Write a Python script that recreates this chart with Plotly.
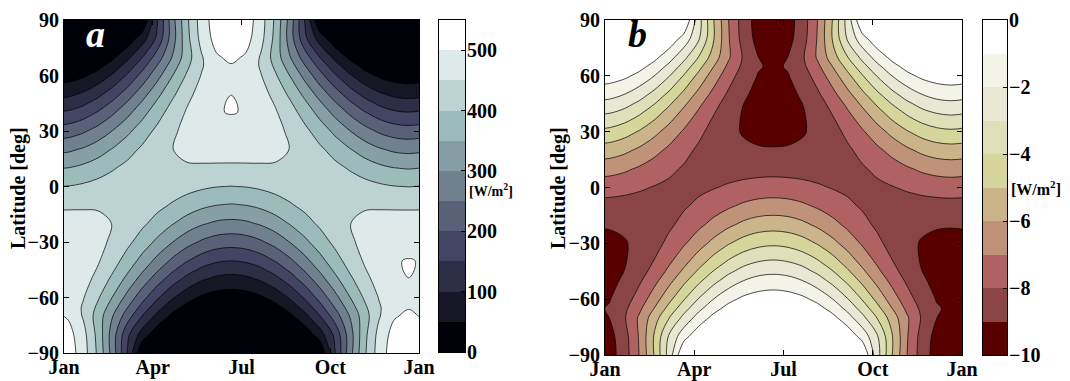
import plotly.graph_objects as go

# the page body adds an 8 px margin, so the figure is drawn 8 px in from the corner
OFF = 8
W, H = 1070 - OFF, 381 - OFF

# time axis in months since 1 Jan (half-month steps around the solstices)
month_pos = [-0.35, 0.15, 0.65, 1.15, 1.65, 2.15, 2.65, 3.15, 3.65, 4.15, 4.65, 5.15, 5.65,
             6.15, 6.65, 7.15, 7.65, 8.15, 8.65, 9.15, 9.65, 10.15, 10.65, 11.15, 11.65, 12.15]

latitudes = [90, 80, 70, 65, 60, 50, 45, 40, 30, 20, 10, 0, -10, -20, -30, -40, -45, -50, -60, -65, -70, -80, -90]

# panel a: insolation [W/m2], one row per latitude (north to south)
insolation = [
    [0, 0, 0, 0, 0, 0, 0, 144.5, 277.6, 389.7, 474.1, 526.0, 543.6, 526.0, 474.1, 389.7, 277.6, 144.5, 0, 0, 0, 0, 0, 0, 0, 0],
    [0, 0, 0, 0, 0, 18.1, 75.5, 160.4, 273.4, 383.8, 466.9, 518.1, 535.3, 518.1, 466.9, 383.8, 273.4, 160.4, 75.5, 18.1, 0, 0, 0, 0, 0, 0],
    [0, 0, 0, 10.6, 39.6, 86.4, 148.8, 222.2, 300.5, 376.8, 445.5, 494.3, 510.8, 494.3, 445.5, 376.8, 300.5, 222.2, 148.8, 86.4, 39.6, 10.6, 0, 0, 0, 0],
    [3.0, 5.5, 15.4, 36.9, 72.3, 122.1, 183.8, 253.1, 323.9, 390.1, 445.1, 482.2, 495.7, 482.2, 445.1, 390.1, 323.9, 253.1, 183.8, 122.1, 72.3, 36.9, 15.4, 5.5, 3.0, 5.5],
    [23.7, 28.1, 42.2, 68.1, 106.7, 157.4, 217.5, 282.5, 347.1, 405.6, 452.8, 483.7, 494.4, 483.7, 452.8, 405.6, 347.1, 282.5, 217.5, 157.4, 106.7, 68.1, 42.2, 28.1, 23.7, 28.1],
    [83.4, 89.2, 106.6, 135.8, 175.9, 224.9, 279.6, 335.6, 388.5, 434.3, 469.8, 495.0, 499.8, 495.0, 469.8, 434.3, 388.5, 335.6, 279.6, 224.9, 175.9, 135.8, 106.6, 89.2, 83.4, 89.2],
    [117.0, 123.0, 140.8, 170.2, 209.5, 256.5, 307.6, 358.7, 405.8, 445.8, 476.1, 497.8, 501.4, 497.8, 476.1, 445.8, 405.8, 358.7, 307.6, 256.5, 209.5, 170.2, 140.8, 123.0, 117.0, 123.0],
    [151.5, 157.5, 175.3, 204.1, 242.0, 286.2, 333.2, 379.1, 420.5, 454.6, 480.1, 498.8, 500.9, 498.8, 480.1, 454.6, 420.5, 379.1, 333.2, 286.2, 242.0, 204.1, 175.3, 157.5, 151.5, 157.5],
    [220.6, 226.3, 242.9, 269.0, 302.1, 339.2, 376.7, 411.4, 440.9, 463.8, 480.0, 489.3, 492.4, 489.3, 480.0, 463.8, 440.9, 411.4, 376.7, 339.2, 302.1, 269.0, 242.9, 226.3, 220.6, 226.3],
    [286.8, 291.7, 305.8, 327.4, 353.9, 382.1, 408.8, 431.5, 448.9, 460.7, 467.9, 471.6, 472.7, 471.6, 467.9, 460.7, 448.9, 431.5, 408.8, 382.1, 353.9, 327.4, 305.8, 291.7, 286.8, 291.7],
    [347.0, 350.8, 361.5, 377.3, 395.6, 413.5, 428.4, 438.6, 443.8, 445.0, 443.8, 442.1, 441.4, 442.1, 443.8, 445.0, 443.8, 438.6, 428.4, 413.5, 395.6, 377.3, 361.5, 350.8, 347.0, 350.8],
    [399.1, 401.5, 408.0, 416.9, 425.9, 432.6, 435.0, 432.6, 425.9, 416.9, 408.0, 401.5, 399.1, 401.5, 408.0, 416.9, 425.9, 432.6, 435.0, 432.6, 425.9, 416.9, 408.0, 401.5, 399.1, 401.5],
    [441.4, 442.1, 443.8, 445.0, 443.8, 438.6, 428.4, 413.5, 395.6, 377.3, 361.5, 350.8, 347.0, 350.8, 361.5, 377.3, 395.6, 413.5, 428.4, 438.6, 443.8, 445.0, 443.8, 442.1, 441.4, 442.1],
    [472.7, 471.6, 467.9, 460.7, 448.9, 431.5, 408.8, 382.1, 353.9, 327.4, 305.8, 291.7, 286.8, 291.7, 305.8, 327.4, 353.9, 382.1, 408.8, 431.5, 448.9, 460.7, 467.9, 471.6, 472.7, 471.6],
    [492.4, 489.3, 480.0, 463.8, 440.9, 411.4, 376.7, 339.2, 302.1, 269.0, 242.9, 226.3, 220.6, 226.3, 242.9, 269.0, 302.1, 339.2, 376.7, 411.4, 440.9, 463.8, 480.0, 489.3, 492.4, 489.3],
    [500.9, 498.8, 480.1, 454.6, 420.5, 379.1, 333.2, 286.2, 242.0, 204.1, 175.3, 157.5, 151.5, 157.5, 175.3, 204.1, 242.0, 286.2, 333.2, 379.1, 420.5, 454.6, 480.1, 498.8, 500.9, 498.8],
    [501.4, 497.8, 476.1, 445.8, 405.8, 358.7, 307.6, 256.5, 209.5, 170.2, 140.8, 123.0, 117.0, 123.0, 140.8, 170.2, 209.5, 256.5, 307.6, 358.7, 405.8, 445.8, 476.1, 497.8, 501.4, 497.8],
    [499.8, 495.0, 469.8, 434.3, 388.5, 335.6, 279.6, 224.9, 175.9, 135.8, 106.6, 89.2, 83.4, 89.2, 106.6, 135.8, 175.9, 224.9, 279.6, 335.6, 388.5, 434.3, 469.8, 495.0, 499.8, 495.0],
    [494.4, 483.7, 452.8, 405.6, 347.1, 282.5, 217.5, 157.4, 106.7, 68.1, 42.2, 28.1, 23.7, 28.1, 42.2, 68.1, 106.7, 157.4, 217.5, 282.5, 347.1, 405.6, 452.8, 483.7, 494.4, 483.7],
    [495.7, 482.2, 445.1, 390.1, 323.9, 253.1, 183.8, 122.1, 72.3, 36.9, 15.4, 5.5, 3.0, 5.5, 15.4, 36.9, 72.3, 122.1, 183.8, 253.1, 323.9, 390.1, 445.1, 482.2, 495.7, 482.2],
    [510.8, 494.3, 445.5, 376.8, 300.5, 222.2, 148.8, 86.4, 39.6, 10.6, 0, 0, 0, 0, 0, 10.6, 39.6, 86.4, 148.8, 222.2, 300.5, 376.8, 445.5, 494.3, 510.8, 494.3],
    [535.3, 518.1, 466.9, 383.8, 273.4, 160.4, 75.5, 18.1, 0, 0, 0, 0, 0, 0, 0, 0, 0, 18.1, 75.5, 160.4, 273.4, 383.8, 466.9, 518.1, 535.3, 518.1],
    [543.6, 526.0, 474.1, 389.7, 277.6, 144.5, 0, 0, 0, 0, 0, 0, 0, 0, 0, 0, 0, 0, 0, 144.5, 277.6, 389.7, 474.1, 526.0, 543.6, 526.0],
]

# panel b: insolation difference [W/m2]
difference = [
    [0, 0, 0, 0, 0, 0, 0, -2.59, -4.97, -6.98, -8.49, -9.42, -9.73, -9.42, -8.49, -6.98, -4.97, -2.59, 0, 0, 0, 0, 0, 0, 0, 0],
    [0, 0, 0, 0, 0, -0.33, -1.36, -2.89, -4.92, -6.91, -8.40, -9.33, -9.64, -9.33, -8.40, -6.91, -4.92, -2.89, -1.36, -0.33, 0, 0, 0, 0, 0, 0],
    [0, 0, 0, -0.19, -0.72, -1.57, -2.71, -4.04, -5.47, -6.86, -8.11, -8.99, -9.30, -8.99, -8.11, -6.86, -5.47, -4.04, -2.71, -1.57, -0.72, -0.19, 0, 0, 0, 0],
    [-0.06, -0.10, -0.28, -0.68, -1.34, -2.26, -3.40, -4.68, -5.99, -7.22, -8.23, -8.92, -9.17, -8.92, -8.23, -7.22, -5.99, -4.68, -3.40, -2.26, -1.34, -0.68, -0.28, -0.10, -0.06, -0.10],
    [-0.44, -0.53, -0.79, -1.27, -1.99, -2.94, -4.07, -5.28, -6.49, -7.58, -8.47, -9.05, -9.25, -9.05, -8.47, -7.58, -6.49, -5.28, -4.07, -2.94, -1.99, -1.27, -0.79, -0.53, -0.44, -0.53],
    [-1.57, -1.68, -2.01, -2.55, -3.31, -4.23, -5.26, -6.31, -7.30, -8.16, -8.83, -9.31, -9.40, -9.31, -8.83, -8.16, -7.30, -6.31, -5.26, -4.23, -3.31, -2.55, -2.01, -1.68, -1.57, -1.68],
    [-2.21, -2.32, -2.66, -3.22, -3.96, -4.85, -5.81, -6.78, -7.67, -8.43, -8.99, -9.41, -9.48, -9.41, -8.99, -8.43, -7.67, -6.78, -5.81, -4.85, -3.96, -3.22, -2.66, -2.32, -2.21, -2.32],
    [-2.86, -2.98, -3.31, -3.86, -4.57, -5.41, -6.30, -7.16, -7.95, -8.59, -9.07, -9.43, -9.47, -9.43, -9.07, -8.59, -7.95, -7.16, -6.30, -5.41, -4.57, -3.86, -3.31, -2.98, -2.86, -2.98],
    [-4.17, -4.28, -4.59, -5.08, -5.71, -6.41, -7.12, -7.78, -8.33, -8.77, -9.07, -9.25, -9.31, -9.25, -9.07, -8.77, -8.33, -7.78, -7.12, -6.41, -5.71, -5.08, -4.59, -4.28, -4.17, -4.28],
    [-5.42, -5.51, -5.78, -6.19, -6.69, -7.22, -7.73, -8.16, -8.48, -8.71, -8.84, -8.91, -8.93, -8.91, -8.84, -8.71, -8.48, -8.16, -7.73, -7.22, -6.69, -6.19, -5.78, -5.51, -5.42, -5.51],
    [-6.56, -6.63, -6.83, -7.13, -7.48, -7.82, -8.10, -8.29, -8.39, -8.41, -8.39, -8.36, -8.34, -8.36, -8.39, -8.41, -8.39, -8.29, -8.10, -7.82, -7.48, -7.13, -6.83, -6.63, -6.56, -6.63],
    [-7.54, -7.59, -7.71, -7.88, -8.05, -8.18, -8.22, -8.18, -8.05, -7.88, -7.71, -7.59, -7.54, -7.59, -7.71, -7.88, -8.05, -8.18, -8.22, -8.18, -8.05, -7.88, -7.71, -7.59, -7.54, -7.59],
    [-8.34, -8.36, -8.39, -8.41, -8.39, -8.29, -8.10, -7.82, -7.48, -7.13, -6.83, -6.63, -6.56, -6.63, -6.83, -7.13, -7.48, -7.82, -8.10, -8.29, -8.39, -8.41, -8.39, -8.36, -8.34, -8.36],
    [-8.93, -8.91, -8.84, -8.71, -8.48, -8.16, -7.73, -7.22, -6.69, -6.19, -5.78, -5.51, -5.42, -5.51, -5.78, -6.19, -6.69, -7.22, -7.73, -8.16, -8.48, -8.71, -8.84, -8.91, -8.93, -8.91],
    [-9.31, -9.25, -9.07, -8.77, -8.33, -7.78, -7.12, -6.41, -5.71, -5.08, -4.59, -4.28, -4.17, -4.28, -4.59, -5.08, -5.71, -6.41, -7.12, -7.78, -8.33, -8.77, -9.07, -9.25, -9.31, -9.25],
    [-9.47, -9.43, -9.07, -8.59, -7.95, -7.16, -6.30, -5.41, -4.57, -3.86, -3.31, -2.98, -2.86, -2.98, -3.31, -3.86, -4.57, -5.41, -6.30, -7.16, -7.95, -8.59, -9.07, -9.43, -9.47, -9.43],
    [-9.48, -9.41, -8.99, -8.43, -7.67, -6.78, -5.81, -4.85, -3.96, -3.22, -2.66, -2.32, -2.21, -2.32, -2.66, -3.22, -3.96, -4.85, -5.81, -6.78, -7.67, -8.43, -8.99, -9.41, -9.48, -9.41],
    [-9.40, -9.31, -8.83, -8.16, -7.30, -6.31, -5.26, -4.23, -3.31, -2.55, -2.01, -1.68, -1.57, -1.68, -2.01, -2.55, -3.31, -4.23, -5.26, -6.31, -7.30, -8.16, -8.83, -9.31, -9.40, -9.31],
    [-9.25, -9.05, -8.47, -7.58, -6.49, -5.28, -4.07, -2.94, -1.99, -1.27, -0.79, -0.53, -0.44, -0.53, -0.79, -1.27, -1.99, -2.94, -4.07, -5.28, -6.49, -7.58, -8.47, -9.05, -9.25, -9.05],
    [-9.17, -8.92, -8.23, -7.22, -5.99, -4.68, -3.40, -2.26, -1.34, -0.68, -0.28, -0.10, -0.06, -0.10, -0.28, -0.68, -1.34, -2.26, -3.40, -4.68, -5.99, -7.22, -8.23, -8.92, -9.17, -8.92],
    [-9.30, -8.99, -8.11, -6.86, -5.47, -4.04, -2.71, -1.57, -0.72, -0.19, 0, 0, 0, 0, 0, -0.19, -0.72, -1.57, -2.71, -4.04, -5.47, -6.86, -8.11, -8.99, -9.30, -8.99],
    [-9.64, -9.33, -8.40, -6.91, -4.92, -2.89, -1.36, -0.33, 0, 0, 0, 0, 0, 0, 0, 0, 0, -0.33, -1.36, -2.89, -4.92, -6.91, -8.40, -9.33, -9.64, -9.33],
    [-9.73, -9.42, -8.49, -6.98, -4.97, -2.59, 0, 0, 0, 0, 0, 0, 0, 0, 0, 0, 0, 0, 0, -2.59, -4.97, -6.98, -8.49, -9.42, -9.73, -9.42],
]

month_ticks = [0, 3, 6, 9, 12]
month_labels = ['Jan', 'Apr', 'Jul', 'Oct', 'Jan']
lat_ticks = [-90, -60, -30, 0, 30, 60, 90]

a_cbar_ticks = [0, 100, 200, 300, 400, 500]
a_band_mid = [25, 75, 125, 175, 225, 275, 325, 375, 425, 475, 525]
b_cbar_ticks = [-10, -8, -6, -4, -2, 0]
b_band_mid = [-9.5, -8.5, -7.5, -6.5, -5.5, -4.5, -3.5, -2.5, -1.5, -0.5]

bone_colors = ['#000008', '#161626', '#2d2d45', '#434363', '#596179', '#70808f',
               '#869ea6', '#9cbcbc', '#bdd2d2', '#dee9e9', '#ffffff']
red_colors = ['#580000', '#8a4444', '#b06262', '#c0927a', '#ccb48a',
              '#d5d59c', '#dfdfba', '#e8e8d4', '#f3f3e7', '#ffffff']


def scale(colors):
    n = len(colors) - 1
    return [[i / n, c] for i, c in enumerate(colors)]


FONT = 'Liberation Serif'


# screen-pixel helpers (reference picture coordinates -> paper fractions)
def sx(x):
    return (x - OFF) / W


def sy(y):
    return 1 - (y - OFF) / H


def px_x(x0, x1):
    return [sx(x0), sx(x1)]


def px_y(top, bot):
    return [sy(bot), sy(top)]


fig = go.Figure()

fig.add_trace(go.Contour(
    x=month_pos, y=latitudes[::-1], z=insolation[::-1],
    contours=dict(start=50, end=500, size=50, coloring='fill'),
    colorscale=scale(bone_colors), showscale=False,
    line=dict(color='black', width=0.7, smoothing=1.0),
    xaxis='x', yaxis='y', hoverinfo='skip'))

fig.add_trace(go.Contour(
    x=month_pos, y=latitudes[::-1], z=difference[::-1],
    contours=dict(start=-9, end=-1, size=1, coloring='fill'),
    colorscale=scale(red_colors), showscale=False,
    line=dict(color='black', width=0.7, smoothing=1.0),
    xaxis='x2', yaxis='y2', hoverinfo='skip'))

fig.add_trace(go.Heatmap(
    x=[0], y=a_band_mid, z=[[i] for i in range(len(a_band_mid))],
    colorscale=scale(bone_colors), zmin=0, zmax=len(a_band_mid) - 1,
    showscale=False, xaxis='x3', yaxis='y3', hoverinfo='skip'))

fig.add_trace(go.Heatmap(
    x=[0], y=b_band_mid, z=[[i] for i in range(len(b_band_mid))],
    colorscale=scale(red_colors), zmin=0, zmax=len(b_band_mid) - 1,
    showscale=False, xaxis='x4', yaxis='y4', hoverinfo='skip'))

tickfont = dict(family=FONT, size=20, color='black', weight='bold')
common = dict(showline=True, linecolor='black', linewidth=1, showgrid=False, zeroline=False,
              automargin=False, ticks='inside', ticklen=5, tickwidth=1, tickcolor='black',
              tickfont=tickfont)
cbar_x = dict(range=[-0.5, 0.5], showticklabels=False, ticks='', showline=True, linecolor='black',
              linewidth=1, mirror=True, showgrid=False, zeroline=False, automargin=False)
cbar_y = dict(side='right', mirror=True, showline=True, linecolor='black', linewidth=1,
              showgrid=False, zeroline=False, automargin=False, ticks='inside', ticklen=4,
              tickcolor='black', tickfont=tickfont, ticklabelstandoff=-3)

fig.update_layout(
    template='none',
    width=W, height=H, margin=dict(l=0, r=0, t=0, b=0, pad=0),
    paper_bgcolor='white', plot_bgcolor='white', showlegend=False,
    xaxis=dict(domain=px_x(64, 419), range=[0, 12], tickvals=month_ticks, ticktext=month_labels,
               anchor='y', mirror='ticks', ticklabelstandoff=-4, **common),
    yaxis=dict(domain=px_y(20, 353), range=[-90, 90], tickvals=lat_ticks,
               anchor='x', mirror='ticks', **common),
    xaxis2=dict(domain=px_x(605, 962), range=[0, 12], tickvals=month_ticks, ticktext=month_labels,
                anchor='y2', mirror='ticks', ticklabelstandoff=-4, **common),
    yaxis2=dict(domain=px_y(20, 355), range=[-90, 90], tickvals=lat_ticks,
                anchor='x2', mirror='ticks', **common),
    xaxis3=dict(domain=px_x(439, 465), anchor='y3', **cbar_x),
    yaxis3=dict(domain=px_y(20, 352), range=[0, 550], tickvals=a_cbar_ticks, anchor='x3', **cbar_y),
    xaxis4=dict(domain=px_x(983, 1007), anchor='y4', **cbar_x),
    yaxis4=dict(domain=px_y(20, 355), range=[-10, 0], tickvals=b_cbar_ticks, anchor='x4', **cbar_y),
)

ann_font = dict(family=FONT, size=20, color='black', weight='bold')
annotations = [
    dict(text='Latitude [deg]', x=sx(18), y=sy(188), textangle=-90, font=ann_font),
    dict(text='Latitude [deg]', x=sx(558), y=sy(188), textangle=-90, font=ann_font),
    dict(text='<b><i>a</i></b>', x=sx(84), y=sy(34), xanchor='left',
         font=dict(family=FONT, size=38, color='white')),
    dict(text='<b><i>b</i></b>', x=sx(626), y=sy(34), xanchor='left',
         font=dict(family=FONT, size=38, color='black')),
    dict(text='[W/m<sup>2</sup>]', x=sx(467), y=sy(190), xanchor='left',
         font=dict(family=FONT, size=14, color='black', weight='bold')),
    dict(text='[W/m<sup>2</sup>]', x=sx(1009), y=sy(188), xanchor='left',
         font=dict(family=FONT, size=16, color='black', weight='bold')),
]
for a in annotations:
    a.update(xref='paper', yref='paper', showarrow=False)
    a.setdefault('xanchor', 'center')
    a.setdefault('yanchor', 'middle')
fig.update_layout(annotations=annotations)

fig.write_html('out.html')
